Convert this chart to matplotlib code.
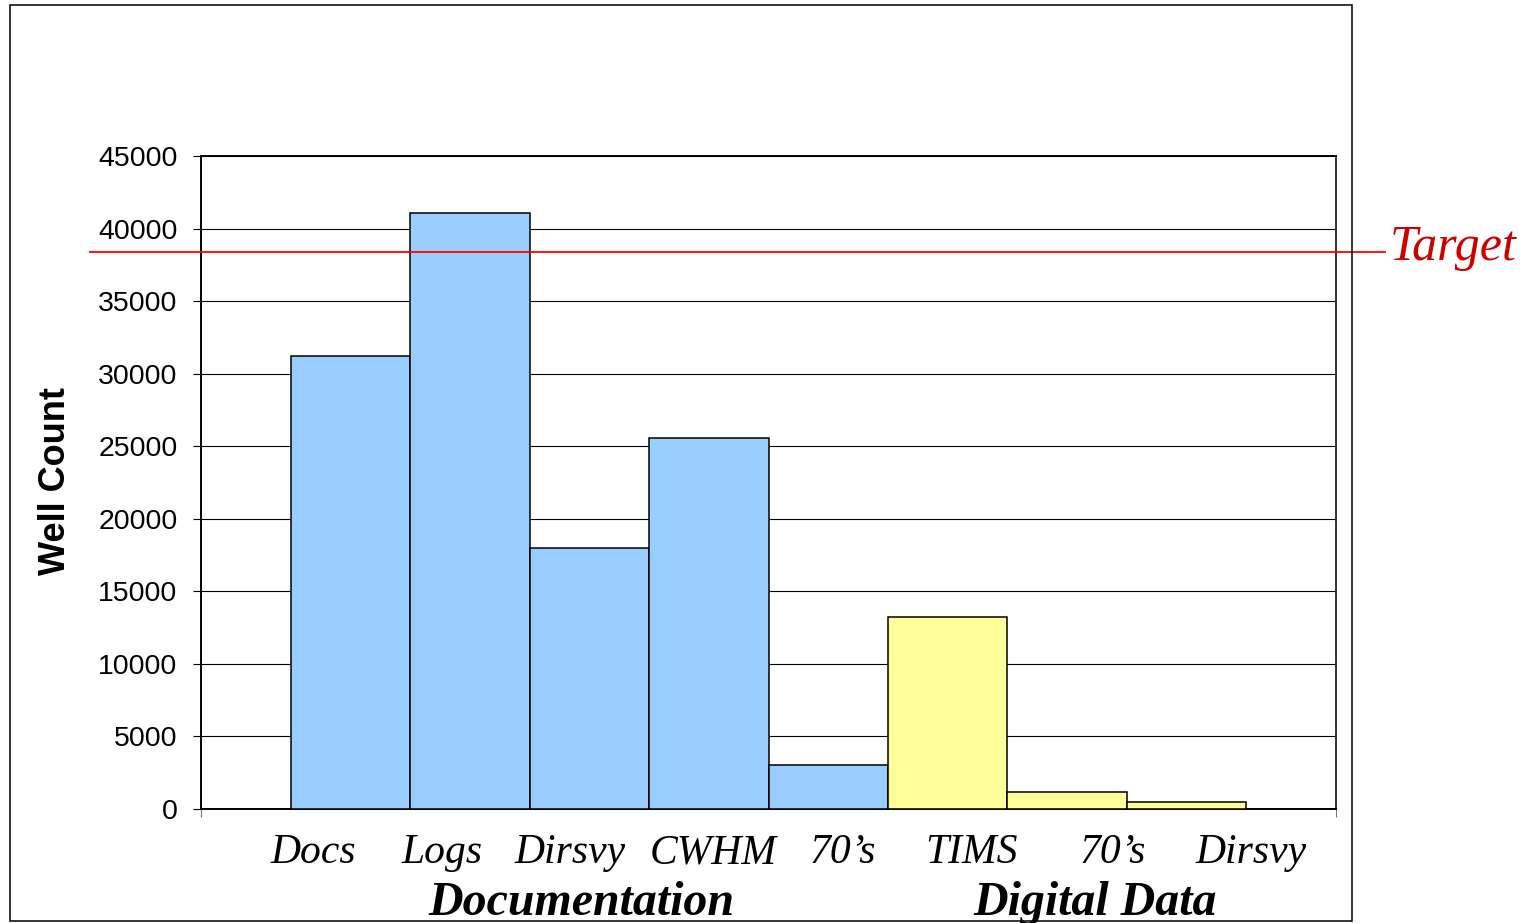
import matplotlib.pyplot as plt
from matplotlib.patches import Rectangle

categories = ["Docs", "Logs", "Dirsvy", "CWHM", "70\u2019s", "TIMS", "70\u2019s", "Dirsvy"]
well_counts = [31200, 41100, 18000, 25600, 3000, 13200, 1200, 500]
groups = ["Documentation", "Documentation", "Documentation", "Documentation", "Documentation",
          "Digital Data", "Digital Data", "Digital Data"]
group_names = ["Documentation", "Digital Data"]
target = 38400
y_ticks = list(range(0, 45001, 5000))

# label offsets (labels in the original sit left of the bar centres)
label_x = [-0.31, 0.77, 1.84, 3.04, 4.12, 5.20, 6.38, 7.54]
group_x = [1.93, 6.23]

group_colors = {"Documentation": "#99CCFF", "Digital Data": "#FFFF99"}
serif = ["Liberation Serif", "DejaVu Serif"]
sans = ["Liberation Sans", "DejaVu Sans"]

fig = plt.figure(figsize=(15.37, 9.23), dpi=100)
ax = fig.add_axes([201 / 1537, 1 - 809 / 923, 1135 / 1537, 653 / 923])

xs = list(range(len(categories)))
ax.bar(xs, well_counts, width=1.0, color=[group_colors[g] for g in groups],
       edgecolor="black", linewidth=1.1, zorder=3)

ax.set_xlim(-1.25, 8.25)
ax.set_ylim(0, 45000)
ax.set_yticks(y_ticks)
ax.set_yticklabels([str(v) for v in y_ticks], fontfamily=sans, fontsize=20.5)
ax.yaxis.grid(True, color="black", linewidth=0.8, zorder=0)
ax.tick_params(axis="y", length=6, width=0.8, pad=11, colors="black")
ax.set_xticks([-1.25, 8.25])
ax.set_xticklabels(["", ""])
ax.tick_params(axis="x", length=6, width=0.8, colors="#777777")
for side in ["left", "bottom", "top", "right"]:
    ax.spines[side].set_linewidth(1.4)
ax.spines["right"].set_color("#333333")

ax.set_ylabel("Well Count", fontfamily=sans, fontsize=26, fontweight="bold")
ax.yaxis.set_label_coords(-0.113, 0.502)

trans = ax.get_xaxis_transform()
for x, lab in zip(label_x, categories):
    ax.text(x, -0.083, lab, transform=trans, ha="center", va="baseline",
            fontfamily=serif, fontstyle="italic", fontsize=30, clip_on=False)
for x, lab in zip(group_x, group_names):
    ax.text(x, -0.162, lab, transform=trans, ha="center", va="baseline",
            fontfamily=serif, fontstyle="italic", fontweight="bold", fontsize=34.5, clip_on=False)

# target line running past the plot area
ax.axhline(target, xmin=-0.098, xmax=1.043, color="#FF0000", linewidth=1.3,
           clip_on=False, zorder=4)
fig.text(1390 / 1537, 1 - 260 / 923, "Target", color="#CC0000", ha="left", va="baseline",
         fontfamily=serif, fontstyle="italic", fontsize=36)

# outer chart border
fig.patches.append(Rectangle((10 / 1537, 1 - 921 / 923), 1342 / 1537, 916 / 923,
                             transform=fig.transFigure, fill=False,
                             edgecolor="black", linewidth=1.1))

fig.savefig("out.png", dpi=100)
